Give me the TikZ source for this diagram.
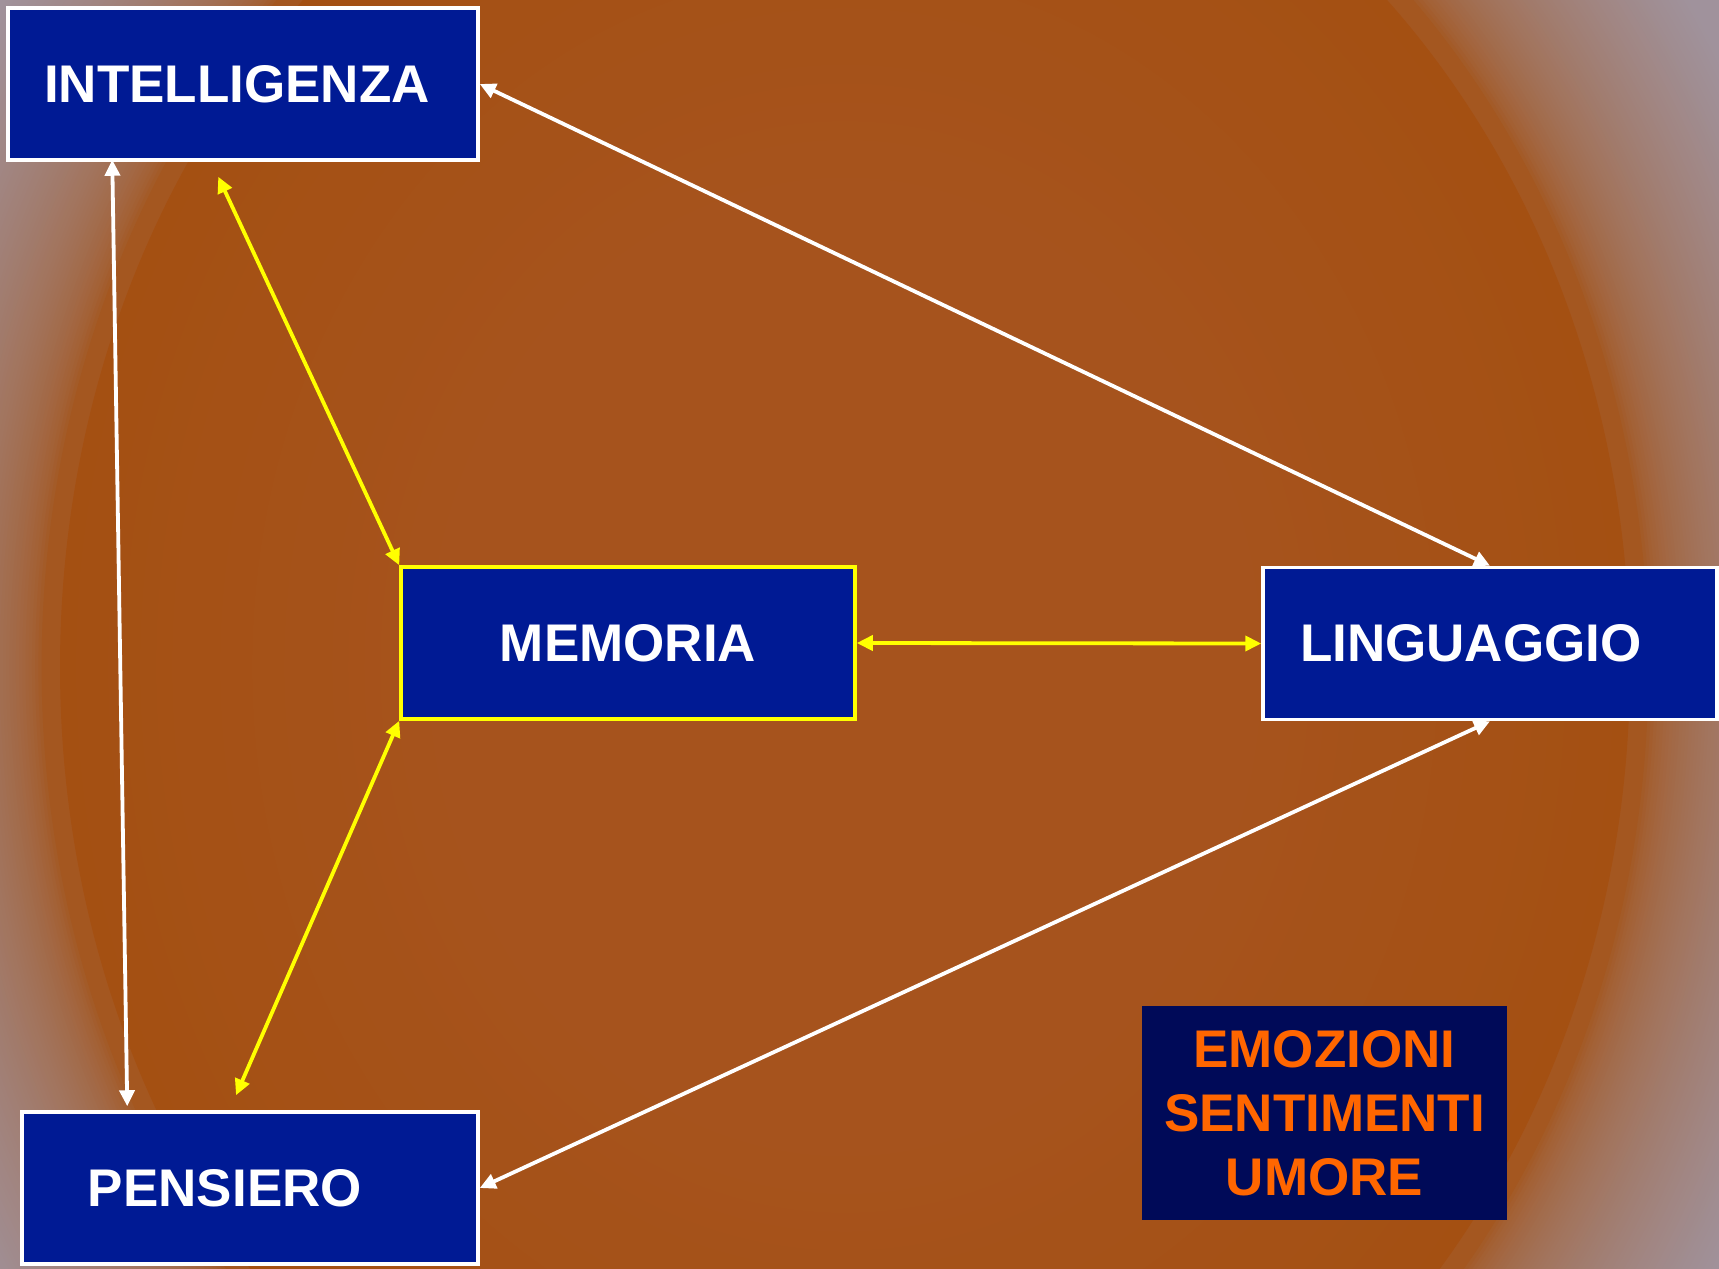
\documentclass[tikz,border=0pt]{standalone}
\usepackage{fontspec}
\setmainfont{Liberation Sans}
\usetikzlibrary{arrows.meta,calc}
\definecolor{bgCenter}{HTML}{A6531D}
\definecolor{bgRing}{HTML}{A45012}
\definecolor{bgGray}{HTML}{A0929C}
\definecolor{boxblue}{HTML}{001A94}
\definecolor{navy}{HTML}{000A58}
\definecolor{orangetxt}{HTML}{FF6600}
\definecolor{yel}{HTML}{FFFF00}
\begin{document}
\begin{tikzpicture}[x=1pt,y=-1pt,
  concept/.style={rectangle, fill=boxblue, draw=white, line width=3.5pt,
    text=white, font=\fontsize{53}{60}\selectfont\bfseries,
    minimum height=152pt, inner sep=0pt},
  mood/.style={rectangle, fill=navy, text=orangetxt,
    font=\fontsize{53}{64}\selectfont\bfseries, align=center,
    minimum width=365pt, minimum height=214pt, inner sep=0pt},
  wlink/.style={draw=white, line width=3.8pt, {Triangle[length=16pt,width=15pt]}-{Triangle[length=16pt,width=15pt]}},
  ylink/.style={draw=yel, line width=3.8pt, {Triangle[length=16pt,width=15pt]}-{Triangle[length=16pt,width=15pt]}}
]
\useasboundingbox (0,0) rectangle (1719,1269);
\clip (0,0) rectangle (1719,1269);
\fill[bgGray] (0,0) rectangle (1719,1269);
\foreach \r in {1.32,1.316,...,1.0}{
  \pgfmathsetmacro\t{min(100,100*sqrt(max(0,(\r-1)/0.27)))}
  \fill[color=bgGray!\t!bgRing] (845,667) ellipse [x radius=\r*801pt, y radius=\r*941pt];
}
\foreach \r in {0.98,0.96,...,0.5}{
  \pgfmathsetmacro\t{100*(\r-0.5)/0.5}
  \fill[color=bgRing!\t!bgCenter] (845,667) ellipse [x radius=\r*801pt, y radius=\r*941pt];
}

\node[concept, text width=398pt, align=left, inner xsep=36pt] (intel) at (243,84) {INTELLIGENZA};
\node[concept, draw=yel, minimum width=454pt] (mem) at (628,643) {MEMORIA};
\node[concept, text width=380pt, align=left, inner xsep=37pt] (ling) at (1490,643.5) {LINGUAGGIO};
\node[concept, text width=388pt, align=left, inner xsep=34pt] (pens) at (250,1188) {\hspace*{32pt}PENSIERO};
\node[mood] (emo) at (1324.5,1113) {EMOZIONI\\SENTIMENTI\\UMORE};

\coordinate (ia) at ($(intel.south west)+(106,-2)$);
\coordinate (pa) at ($(pens.north west)+(107,-4)$);
\coordinate (ib) at ($(intel.south west)+(212,15)$);
\coordinate (pb) at ($(pens.north)+(-14,-15)$);

\draw[wlink] (ia) -- (pa);
\draw[wlink] (intel.east) -- (ling.north);
\draw[wlink] (ling.south) -- (pens.east);
\draw[ylink] (ib) -- (mem.north west);
\draw[ylink] (mem.south west) -- (pb);
\draw[ylink] (mem.east) -- (ling.west);
\end{tikzpicture}
\end{document}
